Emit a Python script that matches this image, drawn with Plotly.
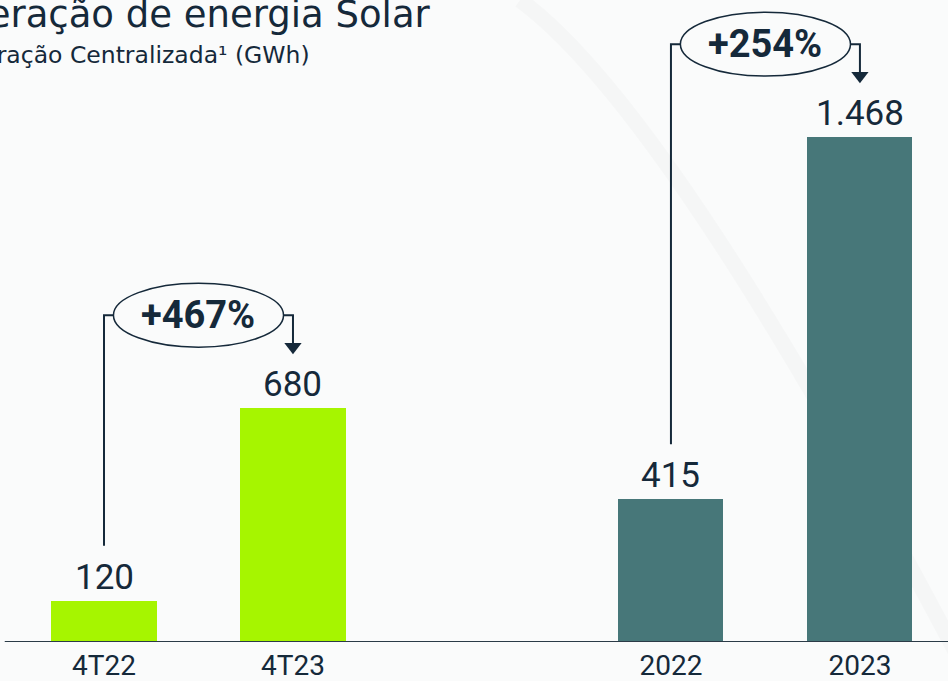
import plotly.graph_objects as go

# data
categories = ["4T22", "4T23", "2022", "2023"]
values = [120, 680, 415, 1468]
value_labels = ["120", "680", "415", "1.468"]
growth_labels = ["+467%", "+254%"]
bar_colors = ["#a6f500", "#a6f500", "#477779", "#477779"]

DARK = "#15293a"
BG = "#fafbfb"
FONT = "Roboto"

# positions: two groups of two bars, with an empty slot between groups
xpos = [0, 1, 3, 4]

fig = go.Figure()

fig.add_trace(go.Bar(
    x=xpos, y=values, width=0.556,
    marker=dict(color=bar_colors, line=dict(width=0)),
    hoverinfo="skip", showlegend=False,
))

# value labels above bars
for x, v, lab in zip(xpos, values, value_labels):
    fig.add_annotation(x=x, y=v, text=lab, showarrow=False, yanchor="bottom",
                       yshift=1, font=dict(family=FONT, size=35, color=DARK))

# growth brackets: from first bar of a pair to the second
LINE_GAP = 160   # gap above the start bar (data units)
TIP_GAP = 158    # arrow tip above end bar
LEVEL = 270      # bracket height above end bar
for i, lab in enumerate(growth_labels):
    x0, x1 = xpos[2 * i], xpos[2 * i + 1]
    v0, v1 = values[2 * i], values[2 * i + 1]
    level = v1 + LEVEL
    tip = v1 + TIP_GAP
    fig.add_trace(go.Scatter(
        x=[x0, x0, x1, x1], y=[v0 + LINE_GAP, level, level, tip + 20],
        mode="lines", line=dict(color=DARK, width=2),
        hoverinfo="skip", showlegend=False,
    ))
    fig.add_trace(go.Scatter(
        x=[x1], y=[tip + 20], mode="markers",
        marker=dict(symbol="triangle-down", size=15, color=DARK),
        hoverinfo="skip", showlegend=False,
    ))
    mid = (x0 + x1) / 2
    fig.add_shape(type="circle", xref="x", yref="y", layer="above",
                  x0=mid - 0.45, x1=mid + 0.45, y0=level - 93, y1=level + 93,
                  fillcolor=BG, line=dict(color=DARK, width=1.5))
    fig.add_annotation(x=mid, y=level, text="<b>" + lab + "</b>", showarrow=False,
                       font=dict(family=FONT, size=38, color=DARK))

# faint decorative arc in the background
fig.add_shape(type="path", xref="paper", yref="paper", layer="below",
              path="M 0.5485,1.0 Q 0.7068,0.8287 1.0127,-0.028",
              line=dict(color="rgba(0,0,0,0.02)", width=16))

# baseline
fig.add_shape(type="line", xref="paper", yref="y", x0=0.005, x1=1, y0=0, y1=0,
              line=dict(color="#2b3b47", width=2))

# titles (left part cut off as in the slide)
fig.add_annotation(xref="paper", yref="paper", x=433 / 948, y=1 - 15 / 642,
                   xanchor="right", yanchor="middle", showarrow=False,
                   text="Geração de energia Solar",
                   font=dict(family="DejaVu Sans", size=37, color=DARK))
fig.add_annotation(xref="paper", yref="paper", x=312 / 948, y=1 - 55 / 642,
                   xanchor="right", yanchor="middle", showarrow=False,
                   text="Geração Centralizada¹ (GWh)",
                   font=dict(family="DejaVu Sans", size=23.5, color=DARK))

fig.update_layout(
    width=948, height=681,
    margin=dict(l=0, r=0, t=0, b=39, autoexpand=False),
    paper_bgcolor=BG, plot_bgcolor=BG,
    xaxis=dict(range=[-0.5503, 4.466], tickvals=xpos, ticktext=categories,
               showgrid=False, zeroline=False, showline=False, automargin=False,
               ticks="", ticklabelstandoff=4,
               tickfont=dict(family=FONT, size=28, color=DARK), fixedrange=True),
    yaxis=dict(range=[0, 642 / 0.344], visible=False, fixedrange=True),
    bargap=0,
)

fig.write_html("out.html", config={"displayModeBar": False},
               post_script="document.body.style.margin='0';document.body.style.overflow='hidden';")
